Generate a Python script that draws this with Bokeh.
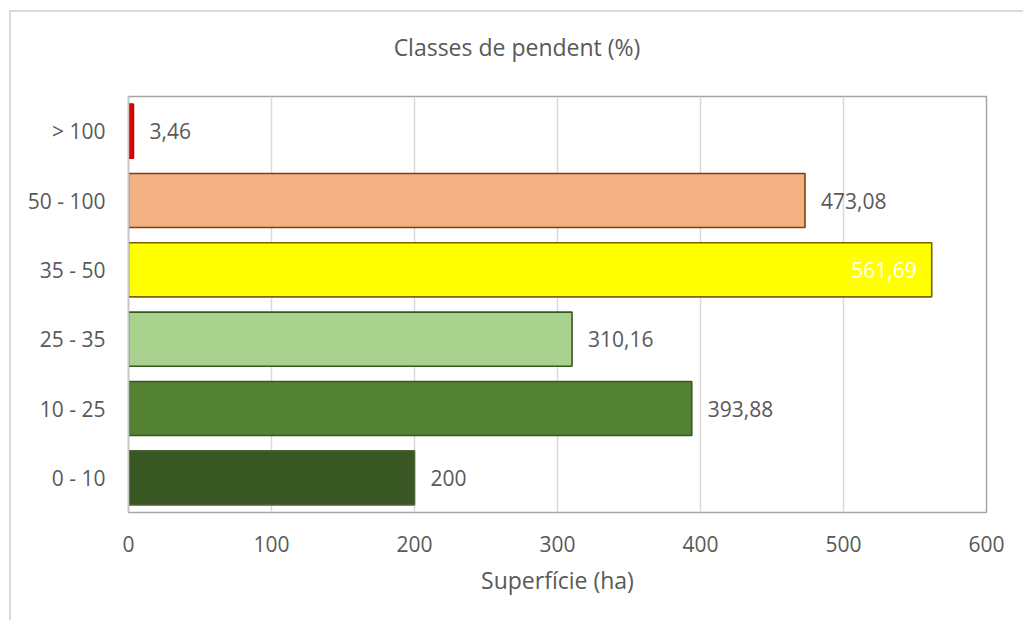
from bokeh.plotting import figure
from bokeh.layouts import column
from bokeh.models import ColumnDataSource, FactorRange, Range1d, FixedTicker, Div
from bokeh.core.properties import value
from bokeh.embed import file_html
from bokeh.resources import INLINE

# Slope classes (bottom to top) and their surface in hectares
classes = ["0 - 10", "10 - 25", "25 - 35", "35 - 50", "50 - 100", "> 100"]
surface_ha = [200, 393.88, 310.16, 561.69, 473.08, 3.46]
fill_colors = ["#385723", "#548235", "#a9d18e", "#ffff00", "#f4b183", "#e60000"]
line_colors = ["#4b6136", "#375623", "#385723", "#7f6000", "#843c0c", "#c00000"]
x_ticks = [0, 100, 200, 300, 400, 500, 600]
title_text = "Classes de pendent (%)"

FONT = "Open Sans"
TEXT = "#595959"
W = 1012
TITLE_H = 82
H = 526

labels = [f"{v:g}".replace(".", ",") for v in surface_ha]
longest = max(surface_ha)

src = ColumnDataSource(dict(cls=classes, val=surface_ha, fill=fill_colors,
                            line=line_colors, lab=labels))
outside = ColumnDataSource(dict(
    cls=[c for c, v in zip(classes, surface_ha) if v != longest],
    val=[v for v in surface_ha if v != longest],
    lab=[l for l, v in zip(labels, surface_ha) if v != longest]))
inside = ColumnDataSource(dict(
    cls=[c for c, v in zip(classes, surface_ha) if v == longest],
    val=[v for v in surface_ha if v == longest],
    lab=[l for l, v in zip(labels, surface_ha) if v == longest]))

# title block above the plot, centred over the whole chart area
title_div = Div(
    text=(f'<div style="display:block; width:{W - 10}px; padding-top:20px; '
          f'padding-left:10px; text-align:center; font-family:\'{FONT}\'; '
          f'font-size:23px; line-height:31px; color:{TEXT}; white-space:nowrap;">'
          f'{title_text}</div>'),
    width=W, height=TITLE_H, margin=0)

p = figure(width=W, height=H, y_range=FactorRange(factors=classes, range_padding=0),
           x_range=Range1d(0, 600), output_backend="svg", toolbar_location=None,
           min_border_left=117, min_border_right=37, min_border_top=2,
           min_border_bottom=108)
p.margin = 0

p.hbar(y="cls", right="val", left=0, height=0.78, source=src,
       fill_color="fill", line_color="line", line_width=1.6)

p.text(x="val", y="cls", text="lab", source=outside, x_offset=16,
       text_align="left", text_baseline="middle", text_font=value(FONT),
       text_font_size="21px", text_color=TEXT)
p.text(x="val", y="cls", text="lab", source=inside, x_offset=-15,
       text_align="right", text_baseline="middle", text_font=value(FONT),
       text_font_size="21px", text_color="#ffffff")

p.outline_line_color = "#a6a6a6"
p.outline_line_width = 1.5
p.background_fill_color = "#ffffff"
p.border_fill_color = "#ffffff"

p.xgrid.ticker = FixedTicker(ticks=x_ticks)
p.xgrid.grid_line_color = "#d9d9d9"
p.xgrid.grid_line_width = 1.5
p.ygrid.grid_line_color = None

p.xaxis.ticker = FixedTicker(ticks=x_ticks)
p.xaxis.axis_label = "Superfície (ha)"
p.xaxis.axis_label_text_font = FONT
p.xaxis.axis_label_text_font_size = "23px"
p.xaxis.axis_label_text_font_style = "normal"
p.xaxis.axis_label_text_color = TEXT
p.xaxis.axis_label_standoff = 9
p.xaxis.major_label_standoff = 17
p.xaxis.axis_line_color = None

p.yaxis.axis_line_color = "#c8c8c8"
p.yaxis.axis_line_width = 1.5
p.yaxis.major_label_standoff = 17

for ax in (p.xaxis, p.yaxis):
    ax.major_tick_line_color = None
    ax.minor_tick_line_color = None
    ax.major_label_text_font = FONT
    ax.major_label_text_font_size = "21px"
    ax.major_label_text_color = TEXT

chart = column(title_div, p, spacing=0)
chart.margin = (10, 0, 0, 9)
chart.styles = {"border-left": "2px solid #dadada", "border-top": "2px solid #dadada",
                "background-color": "#ffffff"}

open("out.html", "w").write(file_html(chart, INLINE))
